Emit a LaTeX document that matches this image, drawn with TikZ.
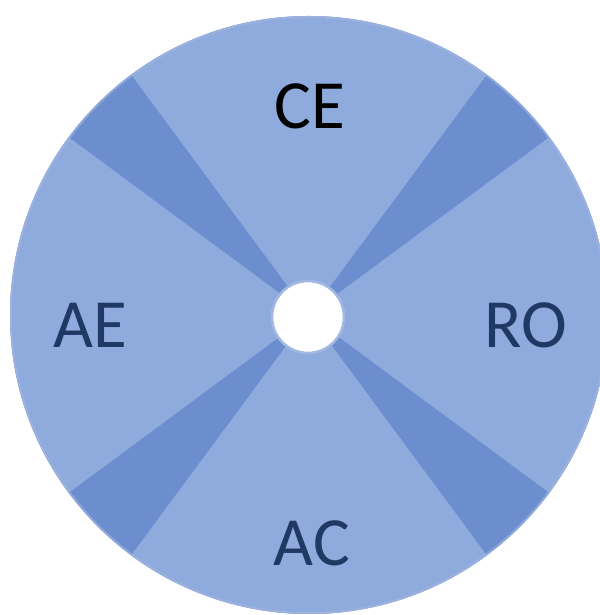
\documentclass[tikz,border=0pt]{standalone}
\usepackage{fontspec}
\setmainfont{Carlito}
\usepackage{tikz}

\definecolor{sectorblue}{HTML}{8FAADC}
\definecolor{wedgeblue}{HTML}{6C8ECF}
\definecolor{rimblue}{HTML}{A3B8E2}
\definecolor{labelnavy}{HTML}{203864}

\begin{document}
\begin{tikzpicture}[
    x=1pt, y=1pt,
    sector/.style={fill=sectorblue},
    wedge/.style={fill=wedgeblue},
    rim/.style={draw=rimblue, line width=2pt},
    seglabel/.style={inner sep=0pt, font=\fontsize{69}{69}\selectfont, text=labelnavy}
  ]
    \useasboundingbox (0,0) rectangle (599,615);

    \coordinate (mid) at (309,300);
    \coordinate (hole) at (308,298);

    % dark disc, light sectors on top
    \fill[wedge] (mid) circle[radius=299];
    \foreach \a [evaluate=\a as \s using \a-36.5, evaluate=\a as \e using \a+36.5] in {0,90,180,270}
      \fill[sector] (mid) -- ++(\s:299) arc[start angle=\s, end angle=\e, radius=299] -- cycle;
    \draw[rim, opacity=0.6] (mid) circle[radius=298];

    \fill[white] (hole) circle[radius=35];
    \draw[rim, line width=2.5pt] (hole) circle[radius=36];

    \node[seglabel, text=black] (ce) at (310,509) {CE};
    \node[seglabel] (ae) at (90,290) {AE};
    \node[seglabel] (ro) at (526,290) {RO};
    \node[seglabel] (ac) at (312,72) {AC};
  \end{tikzpicture}
\end{document}
